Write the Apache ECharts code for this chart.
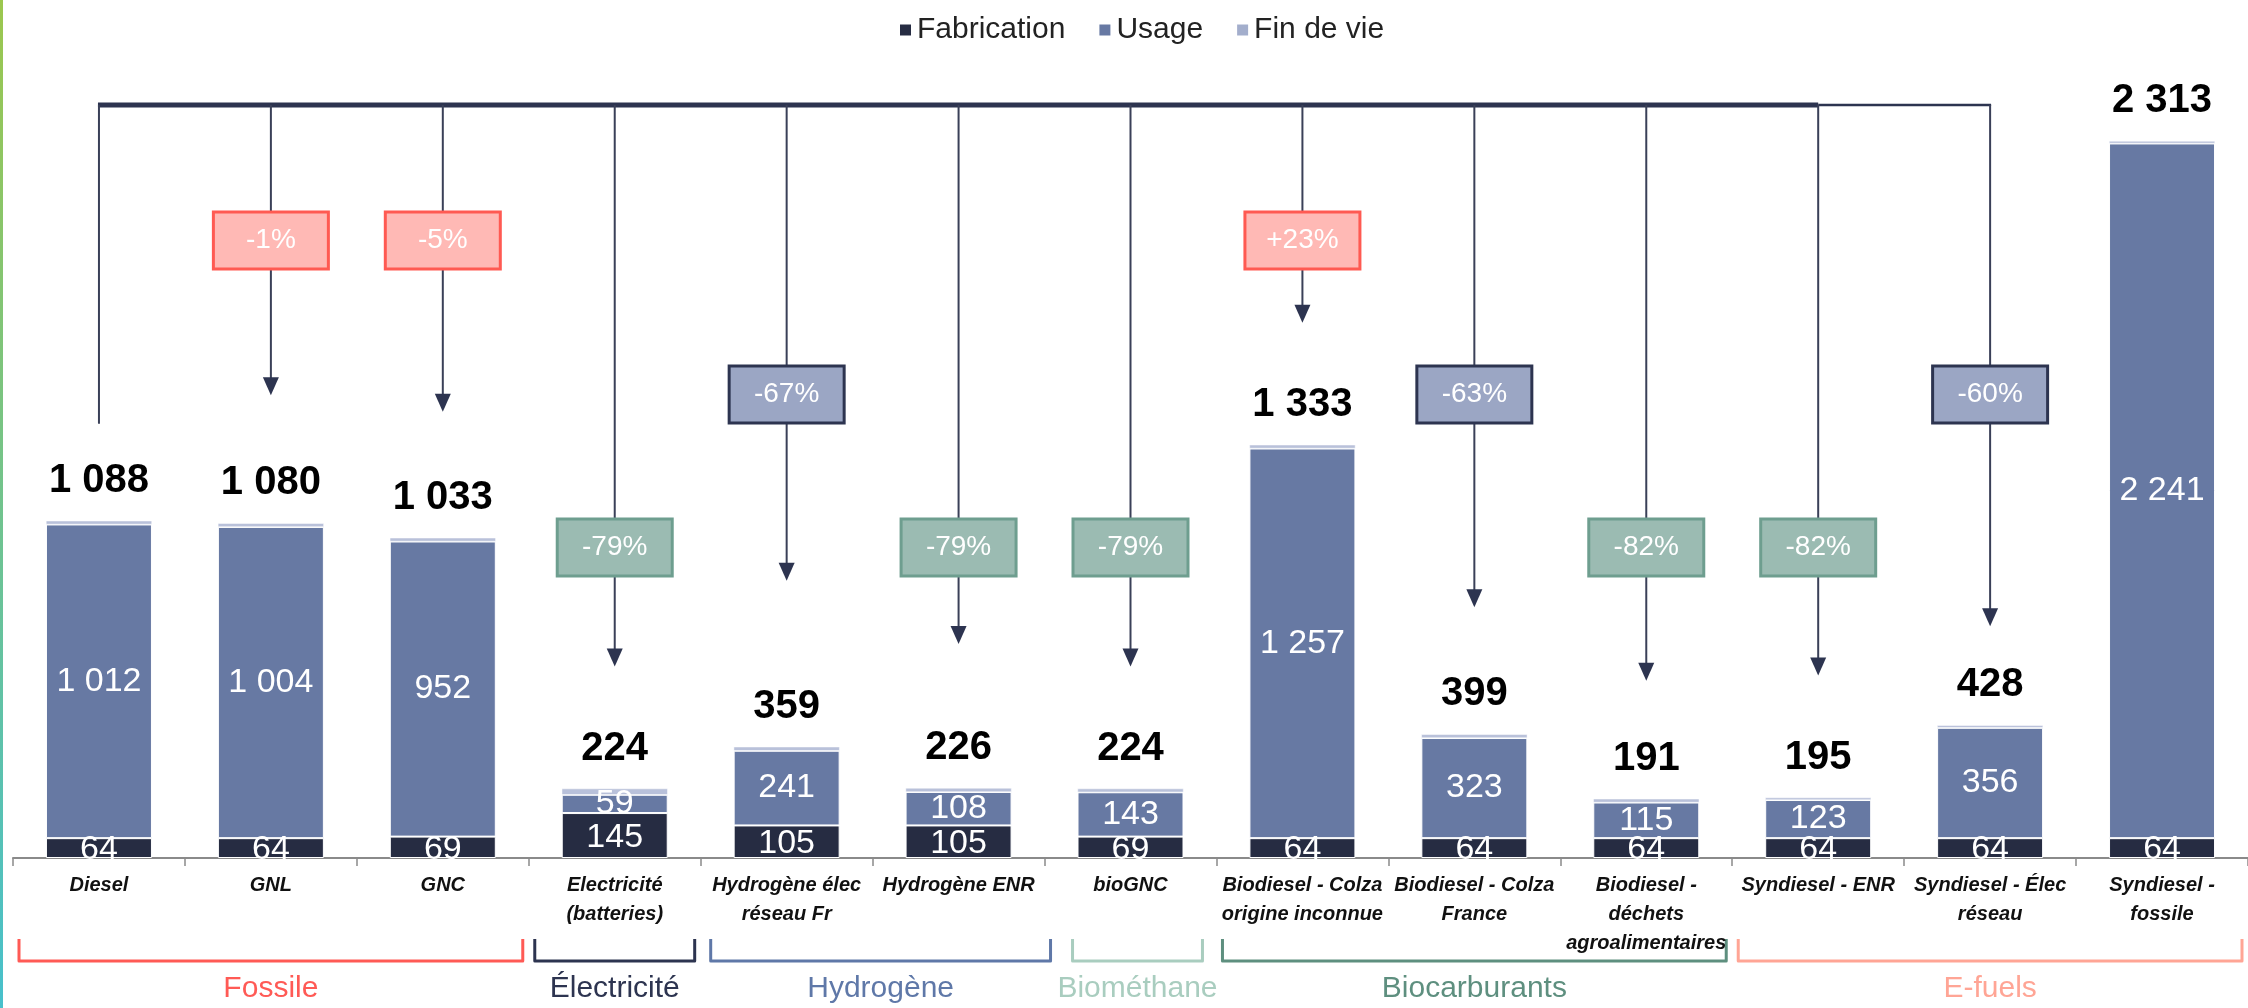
<!DOCTYPE html>
<html>
<head>
<meta charset="utf-8">
<script src="https://cdn.jsdelivr.net/npm/echarts@6/dist/echarts.min.js"></script>
<style>
  html, body { margin: 0; padding: 0; background: #fff; }
  #chart { width: 2248px; height: 1008px; }
</style>
</head>
<body>
<div id="chart"></div>
<script>
// données (gCO2e/km)
const categories = [
  'Diesel', 'GNL', 'GNC', 'Electricité\n(batteries)', 'Hydrogène élec\nréseau Fr',
  'Hydrogène ENR', 'bioGNC', 'Biodiesel - Colza\norigine inconnue', 'Biodiesel - Colza\nFrance',
  'Biodiesel -\ndéchets\nagroalimentaires', 'Syndiesel - ENR', 'Syndiesel - Élec\nréseau', 'Syndiesel -\nfossile'
];
const fabrication = [64, 64, 69, 145, 105, 105, 69, 64, 64, 64, 64, 64, 64];
const usage = [1012, 1004, 952, 59, 241, 108, 143, 1257, 323, 115, 123, 356, 2241];
const finDeVie = [12, 12, 12, 20, 13, 13, 12, 12, 12, 12, 8, 8, 8];
const totals = [1088, 1080, 1033, 224, 359, 226, 224, 1333, 399, 191, 195, 428, 2313];
const variations = [null, '-1%', '-5%', '-79%', '-67%', '-79%', '-79%', '+23%', '-63%', '-82%', '-82%', '-60%', null];
const variationKind = [null, 'red', 'red', 'green', 'blue', 'green', 'green', 'red', 'blue', 'green', 'green', 'blue', null];
const groupNames = ['Fossile', 'Électricité', 'Hydrogène', 'Biométhane', 'Biocarburants', 'E-fuels'];
const groupStart = [0, 3, 4, 6, 7, 10];
const groupEnd = [2, 3, 5, 6, 9, 12];

// styles
const COLORS = { fab: '#262C42', usage: '#6779A3', fdv: '#B9C1DA' };
const GROUP_COLORS = ['#FF5A55', '#2D3450', '#5F78A8', '#A9CDBF', '#5E8F7F', '#FFA595'];
const BOX = {
  red: { fill: '#FFB9B5', stroke: '#FF5A52', top: 212 },
  blue: { fill: '#9BA6C4', stroke: '#2D3450', top: 366 },
  green: { fill: '#9BBBB2', stroke: '#6E9E8F', top: 519 }
};
const arrowGap = [null, 86, 84, 80, 124, 102, 80, 80, 85, 76, 80, 57, null];
// petits décalages des accolades (gauche, droite) comme sur l'original
const bracketShift = [[0, 0], [0, 0], [4, 12], [22, -8], [0, 0], [0, 0]];
const TOP_Y = 105;
const LINE = '#3A4058';
const NARROW = '"Liberation Sans Narrow", "Liberation Sans", sans-serif';
const SANS = '"Liberation Sans", sans-serif';

const fmt = v => String(v).replace(/\B(?=(\d{3})+(?!\d))/g, ' ');

const chart = echarts.init(document.getElementById('chart'));

const innerLabel = {
  show: true,
  position: 'inside',
  color: '#fff',
  fontFamily: NARROW,
  fontSize: 34,
  formatter: p => fmt(p.value)
};

chart.setOption({
  animation: false,
  legend: {
    top: 10,
    left: 893,
    icon: 'rect',
    itemWidth: 13,
    itemHeight: 13,
    itemGap: 32,
    textStyle: { fontFamily: SANS, fontSize: 30, color: '#222' },
    data: ['Fabrication', 'Usage', { name: 'Fin de vie', itemStyle: { color: '#A3AECC' } }]
  },
  grid: { left: 13, top: 83, width: 2243, height: 775 },
  xAxis: {
    type: 'category',
    data: categories,
    axisLine: { lineStyle: { color: '#8A8A8A', width: 2 } },
    axisTick: { show: true, length: 8, interval: 0, lineStyle: { color: '#8A8A8A', width: 1.5 } },
    axisLabel: {
      interval: 0,
      margin: 13,
      fontFamily: SANS,
      fontStyle: 'italic',
      fontWeight: 'bold',
      fontSize: 20,
      lineHeight: 29,
      color: '#111'
    }
  },
  yAxis: { type: 'value', min: 0, max: 2500, show: false, splitLine: { show: false } },
  series: [
    {
      name: 'Fabrication', type: 'bar', stack: 'total', barWidth: 106, data: fabrication,
      itemStyle: { color: COLORS.fab, borderColor: '#fff', borderWidth: 1 },
      label: Object.assign({}, innerLabel, { offset: [0, 2] })
    },
    {
      name: 'Usage', type: 'bar', stack: 'total', data: usage,
      itemStyle: { color: COLORS.usage, borderColor: '#fff', borderWidth: 1 },
      label: innerLabel
    },
    {
      name: 'Fin de vie', type: 'bar', stack: 'total', data: finDeVie,
      itemStyle: { color: COLORS.fdv, borderColor: '#fff', borderWidth: 0.5 },
      label: {
        show: true,
        position: 'top',
        distance: 20,
        color: '#000',
        fontFamily: NARROW,
        fontWeight: 'bold',
        fontSize: 40,
        formatter: p => fmt(totals[p.dataIndex])
      }
    }
  ]
});

// annotations : lignes, encadrés de variation et accolades de groupes
const cx = i => chart.convertToPixel({ gridIndex: 0 }, [i, 0])[0];
const topOf = i => chart.convertToPixel({ gridIndex: 0 }, [i, totals[i]])[1];
const halfBand = (cx(1) - cx(0)) / 2;
const g = [];

// liseré gauche
g.push({
  type: 'rect', shape: { x: 0, y: 0, width: 3, height: 1008 },
  style: { fill: new echarts.graphic.LinearGradient(0, 0, 0, 1, [
    { offset: 0, color: '#9CC74E' }, { offset: 1, color: '#47C0CC' }
  ]) }
});

g.push({ type: 'line', shape: { x1: cx(0) - 1, y1: TOP_Y, x2: cx(10), y2: TOP_Y }, style: { stroke: '#2D3450', lineWidth: 5 } });
g.push({ type: 'line', shape: { x1: cx(10), y1: TOP_Y, x2: cx(11) + 1, y2: TOP_Y }, style: { stroke: '#2D3450', lineWidth: 2.5 } });
g.push({ type: 'line', shape: { x1: cx(0), y1: TOP_Y, x2: cx(0), y2: topOf(0) - 97 }, style: { stroke: LINE, lineWidth: 2 } });

variations.forEach((txt, i) => {
  if (!txt) return;
  const b = BOX[variationKind[i]];
  const x = cx(i);
  const w = 115, h = 57;
  const tip = topOf(i) - 42 - arrowGap[i];
  g.push({ type: 'line', shape: { x1: x, y1: TOP_Y, x2: x, y2: b.top }, style: { stroke: LINE, lineWidth: 2 } });
  g.push({ type: 'line', shape: { x1: x, y1: b.top + h, x2: x, y2: tip - 16 }, style: { stroke: LINE, lineWidth: 2 } });
  g.push({ type: 'polygon', shape: { points: [[x - 8, tip - 18], [x + 8, tip - 18], [x, tip]] }, style: { fill: '#2D3450' } });
  g.push({
    type: 'rect', shape: { x: x - w / 2, y: b.top, width: w, height: h },
    style: { fill: b.fill, stroke: b.stroke, lineWidth: 3 }
  });
  g.push({
    type: 'text', x: x, y: b.top + h / 2,
    style: {
      text: txt, fill: '#fff', font: '28px ' + NARROW,
      align: 'center', verticalAlign: 'middle', textAlign: 'center', textVerticalAlign: 'middle'
    }
  });
});

groupNames.forEach((name, k) => {
  const x0 = cx(groupStart[k]) - halfBand + 6 + bracketShift[k][0];
  const x1 = cx(groupEnd[k]) + halfBand - 6 + bracketShift[k][1];
  const col = GROUP_COLORS[k];
  g.push({
    type: 'polyline',
    shape: { points: [[x0, 939], [x0, 961], [x1, 961], [x1, 939]] },
    style: { stroke: col, lineWidth: 3, fill: null, lineJoin: 'round' }
  });
  g.push({
    type: 'text', x: (x0 + x1) / 2, y: 989,
    style: {
      text: name, fill: col, font: '30px ' + SANS,
      align: 'center', verticalAlign: 'middle', textAlign: 'center', textVerticalAlign: 'middle'
    }
  });
});

chart.setOption({ graphic: g });
</script>
</body>
</html>
